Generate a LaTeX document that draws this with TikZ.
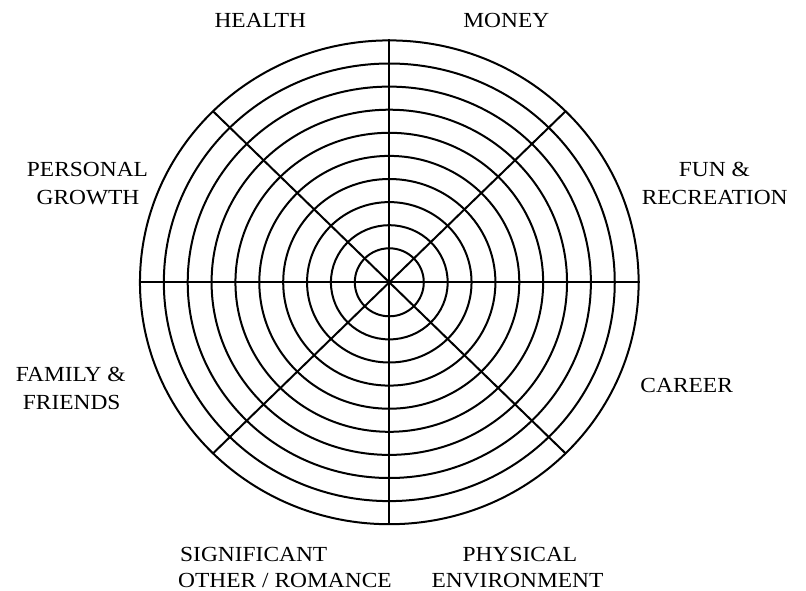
\documentclass[tikz,border=0pt]{standalone}
\usepackage{fontspec}
\setmainfont{Liberation Serif}
\usepackage{graphicx}
\usetikzlibrary{calc}
\newcommand\wlab[1]{\scalebox{1.09}[1]{#1}}
\begin{document}
\begin{tikzpicture}[x=1pt,y=-1pt,
  ring/.style={draw=black,line width=2pt},
  spoke/.style={draw=black,line width=2pt},
  lab/.style={anchor=base,inner sep=0pt,font=\fontsize{21.5}{28}\selectfont}]
\useasboundingbox (0,0) rectangle (806,590);
\coordinate (c) at (389.3,282.3);
% rings
\foreach \k in {0,...,9}{
  \pgfmathsetmacro\rx{34.5+23.87*\k}
  \pgfmathsetmacro\ry{34+23.1*\k}
  \path[ring] (c) ellipse [x radius=\rx pt, y radius=\ry pt];
}
% spoke end points
\coordinate (n) at (389.3,39);
\coordinate (s) at (389.3,525);
\coordinate (w) at (139,282.3);
\coordinate (e) at (639.5,282.3);
\coordinate (nw) at ($(c)+(-176.3,-171.1)$);
\coordinate (ne) at ($(c)+(176.3,-171.1)$);
\coordinate (sw) at ($(c)+(-176.3,171.1)$);
\coordinate (se) at ($(c)+(176.3,171.1)$);
\path[spoke] (n) -- (s);
\path[spoke] (w) -- (e);
\path[spoke] (nw) -- (se);
\path[spoke] (ne) -- (sw);
% labels
\node[lab] (health) at (260.3,27.5) {\wlab{HEALTH}};
\node[lab] (money) at (506.3,27.5) {\wlab{MONEY}};
\node[lab] (pg1) at (87.5,176) {\wlab{PERSONAL}};
\node[lab] (pg2) at (88,204) {\wlab{GROWTH}};
\node[lab] (fr1) at (714.3,176) {\wlab{FUN \&}};
\node[lab] (fr2) at (714.7,204) {\wlab{RECREATION}};
\node[lab] (ff1) at (70.8,381) {\wlab{FAMILY \&}};
\node[lab] (ff2) at (71.7,409) {\wlab{FRIENDS}};
\node[lab] (career) at (686.7,392.3) {\wlab{CAREER}};
\node[lab,anchor=base west] (so1) at (180,561) {\wlab{SIGNIFICANT}};
\node[lab,anchor=base west] (so2) at (178,587.5) {\wlab{OTHER / ROMANCE}};
\node[lab] (pe1) at (520,561) {\wlab{PHYSICAL}};
\node[lab] (pe2) at (517.5,587.5) {\wlab{ENVIRONMENT}};
\end{tikzpicture}
\end{document}
